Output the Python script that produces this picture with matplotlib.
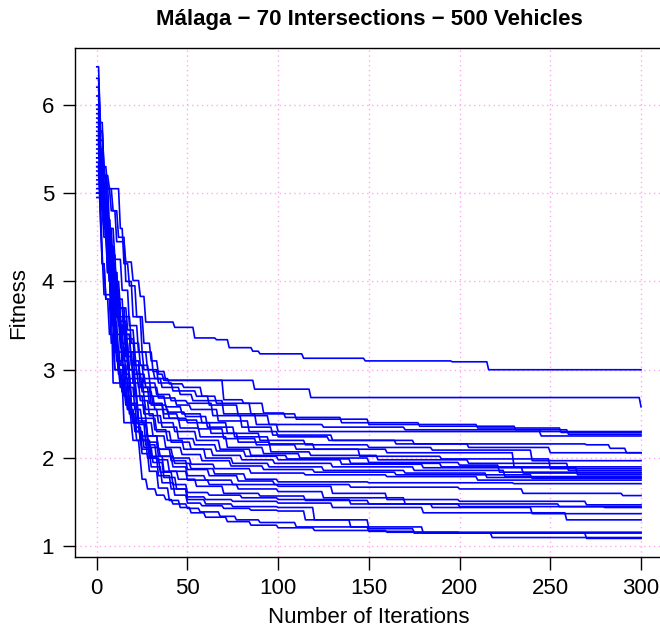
import matplotlib
matplotlib.use('Agg')
import matplotlib.pyplot as plt

plt.rcParams['font.family'] = ['Liberation Sans', 'DejaVu Sans']

TITLE = 'Málaga \u2212 70 Intersections \u2212 500 Vehicles'
X_LABEL = 'Number of Iterations'
Y_LABEL = 'Fitness'
x_ticks = [0, 50, 100, 150, 200, 250, 300]
y_ticks = [1, 2, 3, 4, 5, 6]

# best-so-far fitness of each run, given at the iterations where it improves
run_iters = [
    [0, 3, 5, 8, 11, 16, 20, 24, 27, 43, 54, 66, 73, 86, 90, 114, 148, 196, 216, 300],
    [0, 2, 4, 7, 13, 15, 18, 22, 26, 30, 34, 37, 87, 118, 299, 300],
    [0, 2, 4, 6, 9, 12, 16, 20, 25, 31, 38, 70, 81, 92, 104, 135, 178, 231, 245, 300],
    [0, 3, 5, 8, 10, 13, 17, 21, 26, 32, 40, 48, 58, 66, 85, 110, 150, 210, 256, 300],
    [0, 2, 4, 7, 10, 14, 18, 23, 28, 34, 42, 55, 62, 78, 95, 125, 170, 260, 300],
    [0, 3, 5, 8, 11, 13, 19, 24, 29, 36, 46, 53, 70, 88, 100, 140, 245, 300],
    [0, 2, 4, 6, 9, 12, 16, 21, 26, 33, 41, 50, 64, 80, 97, 130, 175, 270, 283, 292, 300],
    [0, 3, 5, 7, 10, 13, 17, 22, 27, 34, 44, 52, 67, 84, 100, 128, 165, 205, 250, 300],
    [0, 2, 4, 6, 8, 11, 15, 19, 24, 30, 38, 47, 58, 72, 90, 115, 150, 185, 240, 300],
    [0, 3, 5, 7, 9, 12, 16, 20, 25, 31, 39, 49, 61, 76, 95, 120, 160, 230, 300],
    [0, 2, 3, 5, 8, 11, 14, 18, 23, 29, 37, 45, 56, 70, 88, 110, 145, 190, 250, 300],
    [0, 3, 5, 8, 10, 13, 17, 21, 26, 32, 40, 50, 63, 78, 96, 118, 155, 205, 260, 300],
    [0, 2, 4, 6, 9, 12, 15, 19, 24, 30, 37, 46, 57, 72, 92, 112, 150, 200, 222, 300],
    [0, 3, 4, 6, 8, 11, 14, 18, 22, 27, 34, 43, 55, 68, 85, 105, 140, 190, 235, 300],
    [0, 2, 4, 7, 10, 13, 16, 20, 24, 29, 36, 45, 54, 66, 82, 100, 135, 180, 265, 300],
    [0, 3, 5, 7, 9, 12, 15, 18, 22, 27, 33, 41, 52, 64, 80, 98, 130, 175, 225, 300],
    [0, 2, 4, 6, 8, 10, 13, 17, 21, 26, 32, 39, 48, 60, 75, 95, 125, 170, 215, 300],
    [0, 3, 5, 7, 9, 11, 14, 17, 21, 25, 31, 38, 47, 58, 74, 92, 120, 165, 240, 300],
    [0, 2, 4, 6, 8, 10, 12, 15, 19, 23, 28, 34, 42, 52, 65, 85, 115, 160, 210, 300],
    [0, 2, 3, 5, 8, 10, 14, 17, 20, 24, 29, 35, 43, 52, 65, 82, 100, 150, 230, 300],
    [0, 2, 4, 6, 8, 10, 13, 16, 19, 23, 28, 34, 41, 50, 62, 78, 98, 140, 200, 235, 290, 300],
    [0, 3, 5, 7, 9, 11, 13, 16, 19, 23, 28, 34, 42, 50, 60, 75, 100, 130, 160, 200, 270, 300],
    [0, 2, 4, 6, 8, 10, 12, 15, 18, 22, 27, 33, 40, 50, 62, 78, 100, 125, 170, 255, 300],
    [0, 3, 4, 6, 8, 10, 12, 15, 18, 21, 25, 30, 37, 45, 55, 70, 90, 115, 150, 200, 280, 300],
    [0, 2, 4, 6, 8, 10, 12, 14, 17, 20, 24, 29, 35, 42, 50, 62, 80, 100, 140, 185, 240, 300],
    [0, 3, 5, 7, 9, 11, 13, 16, 19, 22, 26, 31, 37, 44, 50, 60, 75, 100, 130, 180, 259, 300],
    [0, 2, 4, 6, 8, 10, 12, 14, 17, 20, 24, 28, 34, 41, 50, 60, 75, 100, 120, 150, 175, 300],
    [0, 3, 5, 7, 9, 11, 13, 15, 18, 21, 25, 30, 36, 43, 50, 58, 70, 85, 100, 115, 140, 180, 300],
    [0, 2, 3, 4, 8, 9, 15, 20, 24, 25, 28, 33, 38, 42, 50, 57, 68, 77, 90, 110, 150, 175, 218, 300],
    [0, 2, 3, 5, 7, 10, 13, 16, 19, 22, 25, 29, 34, 40, 46, 52, 60, 72, 85, 100, 120, 160, 200, 270, 300],
]

run_fitness = [
    [5.55, 5.3, 5.05, 4.8, 4.45, 4.22, 4.01, 3.83, 3.54, 3.48, 3.36, 3.34, 3.25, 3.21, 3.18, 3.13, 3.10, 3.09, 3.00, 3.00],
    [5.9, 5.5, 5.2, 5.05, 4.6, 4.2, 3.95, 3.6, 3.3, 3.1, 2.95, 2.88, 2.78, 2.685, 2.685, 2.58],
    [6.43, 5.7, 5.3, 5.05, 4.8, 4.5, 4.0, 3.6, 3.2, 2.98, 2.88, 2.66, 2.62, 2.51, 2.46, 2.40, 2.36, 2.32, 2.30, 2.30],
    [5.2, 5.0, 4.7, 4.3, 4.0, 3.7, 3.45, 3.2, 3.0, 2.9, 2.84, 2.80, 2.7, 2.62, 2.5, 2.44, 2.38, 2.34, 2.29, 2.29],
    [6.1, 5.6, 5.1, 4.6, 4.25, 3.9, 3.5, 3.2, 3.0, 2.85, 2.76, 2.7, 2.6, 2.48, 2.38, 2.35, 2.32, 2.27, 2.27],
    [5.0, 4.8, 4.5, 4.2, 3.9, 3.6, 3.3, 3.05, 2.9, 2.8, 2.72, 2.65, 2.5, 2.38, 2.30, 2.30, 2.25, 2.25],
    [5.7, 5.3, 4.9, 4.5, 4.1, 3.7, 3.35, 3.05, 2.85, 2.72, 2.65, 2.62, 2.48, 2.35, 2.26, 2.2, 2.16, 2.15, 2.11, 2.06, 2.06],
    [5.4, 5.0, 4.6, 4.3, 3.9, 3.5, 3.2, 2.95, 2.8, 2.68, 2.6, 2.55, 2.42, 2.3, 2.24, 2.2, 2.16, 2.12, 2.06, 2.06],
    [6.2, 5.7, 5.2, 4.7, 4.3, 3.8, 3.4, 3.1, 2.9, 2.7, 2.58, 2.5, 2.4, 2.28, 2.2, 2.15, 2.12, 2.09, 1.97, 1.97],
    [5.1, 4.9, 4.5, 4.1, 3.8, 3.5, 3.2, 2.95, 2.75, 2.6, 2.52, 2.47, 2.35, 2.24, 2.16, 2.1, 2.06, 1.90, 1.90],
    [5.8, 5.4, 5.1, 4.6, 4.0, 3.6, 3.3, 3.0, 2.8, 2.62, 2.5, 2.43, 2.33, 2.22, 2.15, 2.1, 2.02, 1.99, 1.88, 1.88],
    [5.3, 5.0, 4.6, 4.2, 3.9, 3.55, 3.2, 2.9, 2.7, 2.55, 2.45, 2.40, 2.28, 2.18, 2.07, 2.03, 1.98, 1.94, 1.86, 1.86],
    [6.0, 5.5, 5.05, 4.6, 4.1, 3.7, 3.4, 3.05, 2.8, 2.6, 2.45, 2.34, 2.24, 2.12, 2.05, 2.0, 1.95, 1.92, 1.84, 1.84],
    [5.0, 4.85, 4.6, 4.3, 4.0, 3.6, 3.2, 2.9, 2.7, 2.55, 2.4, 2.3, 2.2, 2.1, 2.03, 1.99, 1.94, 1.9, 1.83, 1.83],
    [5.6, 5.3, 4.9, 4.4, 3.9, 3.5, 3.15, 2.85, 2.65, 2.48, 2.35, 2.22, 2.15, 2.08, 2.02, 1.98, 1.93, 1.89, 1.81, 1.81],
    [5.45, 5.1, 4.7, 4.3, 3.9, 3.5, 3.1, 2.85, 2.6, 2.45, 2.3, 2.18, 2.1, 2.03, 1.98, 1.94, 1.9, 1.86, 1.79, 1.79],
    [6.3, 5.8, 5.2, 4.7, 4.2, 3.8, 3.4, 3.0, 2.7, 2.5, 2.32, 2.2, 2.1, 2.0, 1.94, 1.9, 1.86, 1.83, 1.78, 1.78],
    [5.15, 4.95, 4.6, 4.2, 3.8, 3.4, 3.05, 2.8, 2.55, 2.4, 2.25, 2.12, 2.04, 1.97, 1.91, 1.87, 1.84, 1.81, 1.77, 1.77],
    [5.75, 5.3, 4.8, 4.3, 3.9, 3.5, 3.2, 2.9, 2.62, 2.42, 2.25, 2.1, 2.0, 1.93, 1.88, 1.83, 1.81, 1.79, 1.75, 1.75],
    [5.35, 4.8, 4.2, 3.8, 3.3, 3.0, 2.75, 2.55, 2.4, 2.25, 2.12, 2.02, 1.94, 1.88, 1.82, 1.76, 1.73, 1.72, 1.71, 1.71],
    [5.95, 5.5, 4.9, 4.4, 3.95, 3.6, 3.25, 2.95, 2.7, 2.45, 2.25, 2.1, 1.97, 1.87, 1.8, 1.74, 1.70, 1.67, 1.65, 1.60, 1.575, 1.575],
    [5.05, 4.9, 4.5, 4.0, 3.6, 3.25, 3.05, 2.85, 2.6, 2.38, 2.18, 2.02, 1.9, 1.80, 1.75, 1.70, 1.68, 1.60, 1.53, 1.51, 1.47, 1.47],
    [5.5, 5.2, 4.7, 4.2, 3.7, 3.3, 3.1, 2.9, 2.6, 2.4, 2.15, 1.98, 1.85, 1.75, 1.70, 1.65, 1.62, 1.55, 1.48, 1.45, 1.45],
    [4.95, 4.8, 4.5, 4.1, 3.7, 3.3, 3.0, 2.8, 2.55, 2.35, 2.2, 2.02, 1.85, 1.76, 1.68, 1.6, 1.57, 1.52, 1.48, 1.45, 1.44, 1.44],
    [5.65, 5.2, 4.6, 4.1, 3.6, 3.2, 3.0, 2.85, 2.6, 2.4, 2.2, 2.0, 1.84, 1.7, 1.61, 1.58, 1.55, 1.53, 1.48, 1.44, 1.37, 1.37],
    [5.25, 5.0, 4.5, 4.0, 3.5, 3.1, 2.9, 2.7, 2.5, 2.3, 2.12, 1.95, 1.78, 1.65, 1.56, 1.53, 1.51, 1.49, 1.44, 1.38, 1.30, 1.30],
    [5.85, 5.3, 4.7, 4.1, 3.6, 3.2, 2.95, 2.75, 2.55, 2.4, 2.2, 2.0, 1.8, 1.65, 1.53, 1.48, 1.45, 1.44, 1.3, 1.2, 1.16, 1.16],
    [5.4, 5.1, 4.6, 4.0, 3.5, 3.1, 2.9, 2.7, 2.5, 2.3, 2.1, 1.9, 1.72, 1.58, 1.49, 1.46, 1.43, 1.41, 1.40, 1.3, 1.22, 1.15, 1.15],
    [5.6, 4.9, 4.3, 3.85, 3.82, 2.85, 2.4, 2.2, 1.98, 1.76, 1.65, 1.58, 1.53, 1.48, 1.43, 1.39, 1.34, 1.30, 1.27, 1.22, 1.17, 1.15, 1.10, 1.10],
    [5.3, 4.7, 4.2, 3.8, 3.4, 3.0, 2.8, 2.6, 2.4, 2.2, 2.05, 1.85, 1.66, 1.52, 1.44, 1.38, 1.33, 1.28, 1.24, 1.21, 1.18, 1.16, 1.15, 1.09, 1.09],
]

fig = plt.figure(figsize=(6.6, 6.35), dpi=100)
# right edge of the box falls just outside the picture, as in the original
ax = fig.add_axes([75 / 660, 1 - 557.3 / 635, (662.8 - 75) / 660, (557.3 - 48.3) / 635])

for its, fit in zip(run_iters, run_fitness):
    # one value per iteration joined by straight segments: a value holds
    # until the iteration before the next improvement
    xs, ys = [its[0]], [fit[0]]
    for k in range(1, len(its)):
        if its[k] - 1 > its[k - 1]:
            xs.append(its[k] - 1)
            ys.append(fit[k - 1])
        xs.append(its[k])
        ys.append(fit[k])
    ax.plot(xs, ys, color='#0000FF', linewidth=1.2)

ax.set_xlim(-12, 312)
ax.set_ylim(0.876, 6.64)
ax.set_xticks(x_ticks)
ax.set_yticks(y_ticks)
ax.grid(True, color='#FFA8F0', linestyle=(0, (1, 2.5)), linewidth=1.0)
ax.set_axisbelow(True)
ax.tick_params(direction='out', length=9, width=1, labelsize=16)
ax.tick_params(axis='y', pad=6)
ax.tick_params(axis='x', pad=6)
for side in ['left', 'bottom', 'top', 'right']:
    ax.spines[side].set_linewidth(1)

ax.set_xlabel(X_LABEL, fontsize=16, labelpad=6)
ax.set_ylabel(Y_LABEL, fontsize=16, labelpad=9)
fig.text(369 / 660, 1 - 19 / 635, TITLE, ha='center', va='center',
         fontsize=16, fontweight='bold')

fig.savefig('out.png', dpi=100)
